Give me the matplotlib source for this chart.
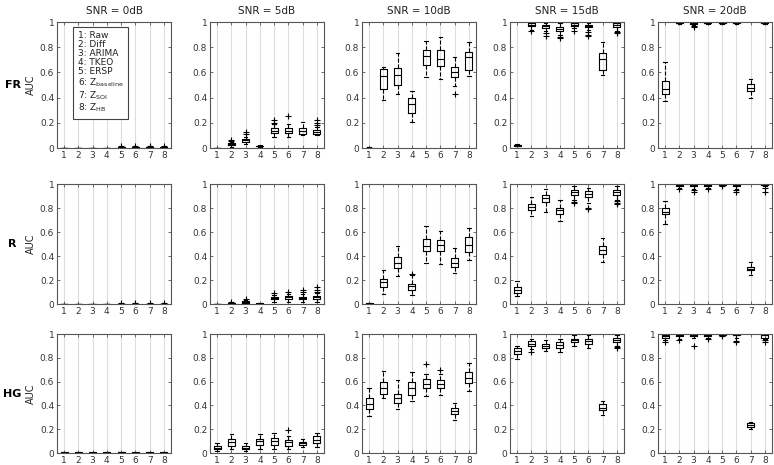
import matplotlib
matplotlib.use("Agg")
import matplotlib.pyplot as plt

plt.rcParams['font.family'] = ['DejaVu Sans']
plt.rcParams['mathtext.default'] = 'regular'

snr_labels = ['SNR = 0dB', 'SNR = 5dB', 'SNR = 10dB', 'SNR = 15dB', 'SNR = 20dB']
row_labels = ['FR', 'R', 'HG']
methods = ['1: Raw', '2: Diff', '3: ARIMA', '4: TKEO', '5: ERSP',
           '6: Z$_{baseline}$', '7: Z$_{SOI}$', '8: Z$_{HB}$']

# each box: (whisker low, q1, median, q3, whisker high)
FR_0 = [(0, .0005, .001, .002, .003), (0, .0005, .001, .002, .003), (0, .0005, .001, .002, .003),
        (0, .0005, .001, .002, .003), (0, .002, .004, .006, .01), (0, .002, .004, .006, .01),
        (0, .002, .004, .007, .012), (0, .002, .004, .006, .01)]
FR_0_out = [[], [], [], [], [.014], [.015], [.016], [.014]]
FR_5 = [(0, .0005, .001, .002, .003), (.01, .025, .03, .04, .05), (.035, .05, .06, .07, .09),
        (.008, .012, .015, .018, .022), (.09, .12, .135, .155, .19), (.09, .12, .135, .155, .19),
        (.1, .115, .135, .155, .21), (.1, .115, .13, .145, .17)]
FR_5_out = [[], [.055, .065], [.11, .13], [], [.2, .22], [.25], [], [.18, .2, .22]]
FR_10 = [(0, .001, .002, .003, .004), (.38, .47, .575, .625, .645), (.43, .5, .58, .635, .75),
         (.21, .28, .35, .395, .45), (.56, .66, .73, .78, .85), (.55, .65, .71, .78, .88),
         (.49, .56, .6, .64, .72), (.57, .62, .72, .76, .84)]
FR_10_out = [[], [], [], [], [], [], [.43], []]
FR_15 = [(.012, .016, .02, .025, .03), (.94, .97, .98, .99, 1.0), (.93, .95, .965, .975, .99),
         (.9, .93, .945, .96, .99), (.95, .97, .98, .99, 1.0), (.94, .96, .97, .98, .99),
         (.58, .62, .71, .75, .84), (.93, .96, .975, .99, 1.0)]
FR_15_out = [[], [.93], [.91, .89], [.88, .87], [.93], [.92, .9, .89], [], [.92, .91]]
FR_20 = [(.37, .43, .47, .53, .68), (.985, .99, .995, 1.0, 1.0), (.98, .985, .99, 1.0, 1.0),
         (.985, .99, .995, 1.0, 1.0), (.985, .99, .995, 1.0, 1.0), (.985, .99, .995, 1.0, 1.0),
         (.40, .45, .48, .51, .55), (.985, .99, .995, 1.0, 1.0)]
FR_20_out = [[], [], [.97, .96], [], [], [], [], []]

R_0 = [(0, .0005, .001, .002, .003), (0, .0005, .001, .002, .003), (0, .0005, .001, .002, .003),
       (0, .0005, .001, .002, .003), (0, .001, .002, .004, .006), (0, .001, .002, .004, .006),
       (0, .001, .002, .004, .006), (0, .001, .002, .004, .006)]
R_0_out = [[], [], [], [], [.008], [.01], [.008], [.008]]
R_5 = [(0, .0005, .001, .002, .003), (0, .004, .007, .01, .016), (.005, .012, .018, .025, .035),
       (0, .002, .004, .006, .01), (.02, .04, .05, .06, .075), (.02, .04, .055, .07, .085),
       (.02, .04, .05, .06, .08), (.02, .04, .055, .07, .09)]
R_5_out = [[], [.02], [.04], [], [.09], [.1], [.1, .12], [.1, .12, .14]]
R_10 = [(0, .002, .004, .006, .008), (.08, .14, .18, .21, .28), (.235, .3, .34, .39, .48),
        (.075, .12, .15, .17, .24), (.34, .44, .48, .54, .65), (.33, .44, .49, .53, .61),
        (.26, .31, .34, .38, .47), (.37, .43, .49, .56, .63)]
R_10_out = [[], [], [], [.25], [], [], [], []]
R_15 = [(.065, .09, .115, .14, .19), (.73, .78, .81, .83, .89), (.77, .85, .88, .91, .96),
        (.69, .75, .78, .8, .87), (.87, .91, .93, .95, .98), (.84, .89, .92, .94, .97),
        (.35, .42, .45, .48, .55), (.87, .91, .93, .95, .98)]
R_15_out = [[], [], [], [], [.85, .84], [.8, .79], [], [.86, .84, .83]]
R_20 = [(.67, .75, .77, .8, .86), (.97, .98, .99, 1.0, 1.0), (.96, .98, .99, 1.0, 1.0),
        (.97, .98, .99, 1.0, 1.0), (.985, .99, .995, 1.0, 1.0), (.96, .98, .99, 1.0, 1.0),
        (.24, .28, .295, .31, .35), (.985, .99, .995, 1.0, 1.0)]
R_20_out = [[], [.96], [.95, .93], [.96], [.98], [.95, .93], [], [.97, .93]]

HG_0 = [(0, .002, .004, .006, .01), (0, .001, .003, .005, .008), (0, .001, .003, .005, .008),
        (0, .002, .004, .006, .01), (0, .002, .005, .008, .012), (0, .001, .003, .005, .008),
        (0, .002, .004, .007, .011), (0, .002, .004, .006, .01)]
HG_0_out = [[], [], [], [], [], [], [], []]
HG_5 = [(.02, .03, .045, .06, .08), (.03, .06, .09, .12, .16), (.02, .03, .045, .06, .08),
        (.03, .07, .1, .12, .16), (.03, .07, .1, .13, .17), (.03, .06, .09, .11, .14),
        (.05, .065, .08, .095, .12), (.05, .08, .11, .14, .17)]
HG_5_out = [[], [], [], [], [], [.19], [], []]
HG_10 = [(.31, .37, .41, .46, .55), (.46, .5, .55, .6, .69), (.37, .42, .46, .5, .61),
         (.44, .49, .55, .6, .68), (.48, .55, .58, .62, .66), (.49, .55, .58, .61, .66),
         (.28, .33, .35, .38, .42), (.52, .59, .63, .68, .76)]
HG_10_out = [[], [], [], [], [.75], [.7], [], []]
HG_15 = [(.79, .83, .86, .88, .9), (.87, .9, .92, .94, .96), (.86, .88, .9, .92, .95),
         (.85, .88, .91, .93, .96), (.9, .93, .95, .96, .99), (.88, .92, .94, .96, .99),
         (.32, .36, .38, .41, .44), (.9, .93, .95, .97, .99)]
HG_15_out = [[], [.85], [], [], [], [], [], [.89, .88]]
HG_20 = [(.95, .97, .98, .99, 1.0), (.96, .98, .99, 1.0, 1.0), (.97, .98, .99, 1.0, 1.0),
         (.97, .98, .99, 1.0, 1.0), (.985, .99, .995, 1.0, 1.0), (.97, .99, .995, 1.0, 1.0),
         (.2, .22, .235, .25, .26), (.96, .97, .99, 1.0, 1.0)]
HG_20_out = [[.93], [.95], [.9], [.96], [.98], [.94, .93], [], [.95, .93]]

panels = [[(FR_0, FR_0_out), (FR_5, FR_5_out), (FR_10, FR_10_out), (FR_15, FR_15_out), (FR_20, FR_20_out)],
          [(R_0, R_0_out), (R_5, R_5_out), (R_10, R_10_out), (R_15, R_15_out), (R_20, R_20_out)],
          [(HG_0, HG_0_out), (HG_5, HG_5_out), (HG_10, HG_10_out), (HG_15, HG_15_out), (HG_20, HG_20_out)]]

W, H = 774, 465
fig = plt.figure(figsize=(W / 100, H / 100), dpi=100)

lefts = [57, 210, 362, 510, 658]
pw = 114
tops = [22, 184, 334]
bottoms = [148, 304, 453]
edge = '#555555'
txt = '#333333'

for r in range(3):
    for c in range(5):
        ax = fig.add_axes([lefts[c] / W, 1 - bottoms[r] / H, pw / W, (bottoms[r] - tops[r]) / H])
        boxes, outs = panels[r][c]
        stats = []
        for b, o in zip(boxes, outs):
            stats.append(dict(whislo=b[0], q1=b[1], med=b[2], q3=b[3], whishi=b[4], fliers=o))
        ax.bxp(stats, positions=range(1, 9), widths=0.5, capwidths=0.25,
               boxprops=dict(color='k', linewidth=0.8),
               whiskerprops=dict(color='k', linewidth=0.8, linestyle='--'),
               capprops=dict(color='k', linewidth=0.8),
               medianprops=dict(color='k', linewidth=0.8),
               flierprops=dict(marker='+', markeredgecolor='k', markersize=4, markeredgewidth=0.8))
        ax.set_xlim(0.5, 8.5)
        ax.set_ylim(0, 1)
        ax.set_xticks(range(1, 9))
        ax.set_xticklabels([str(i) for i in range(1, 9)])
        ax.set_yticks([0, .2, .4, .6, .8, 1])
        ax.set_yticklabels(['0', '0.2', '0.4', '0.6', '0.8', '1'])
        ax.grid(axis='x', color='#dddddd', linewidth=0.8)
        ax.set_axisbelow(True)
        ax.tick_params(direction='in', length=2.5, width=0.6, labelsize=6.5, colors=edge,
                       labelcolor=txt, top=True, right=True, pad=2)
        for s in ax.spines.values():
            s.set_color(edge)
            s.set_linewidth(0.8)
        if r == 0:
            ax.set_title(snr_labels[c], fontsize=7.5, color='#222222', pad=6)
        if c == 0:
            ax.set_ylabel('AUC', fontsize=7, color='#222222', labelpad=3)
            ax.text(-0.39, 0.5, row_labels[r], transform=ax.transAxes, fontsize=8,
                    fontweight='bold', ha='center', va='center')
        if r == 0 and c == 0:
            ax.text(0.18, 0.93, '\n'.join(methods), transform=ax.transAxes, fontsize=6.5,
                    va='top', ha='left', linespacing=1.02, color='#222222',
                    bbox=dict(facecolor='white', edgecolor='#444444', linewidth=0.8, pad=3.5))

fig.savefig('out.png', dpi=100)
